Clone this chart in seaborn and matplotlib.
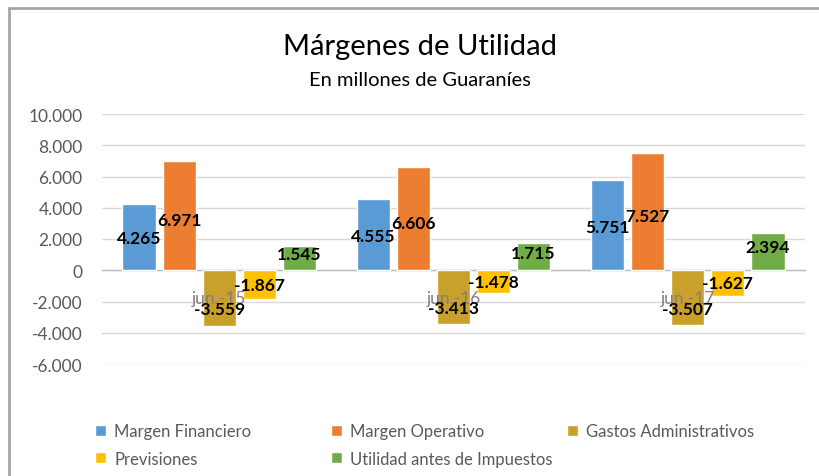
import matplotlib
matplotlib.use("Agg")
import matplotlib.pyplot as plt
import seaborn as sns
import pandas as pd
from matplotlib.lines import Line2D
from matplotlib.ticker import FuncFormatter, FixedLocator

categories = ["jun.-15", "jun.-16", "jun.-17"]
series = ["Margen Financiero", "Margen Operativo", "Gastos Administrativos",
          "Previsiones", "Utilidad antes de Impuestos"]
margen_financiero = [4265, 4555, 5751]
margen_operativo = [6971, 6606, 7527]
gastos_administrativos = [-3559, -3413, -3507]
previsiones = [-1867, -1478, -1627]
utilidad_antes_impuestos = [1545, 1715, 2394]
colors = ["#5B9BD5", "#ED7D31", "#C9A02A", "#FFC000", "#70AD47"]

values = [margen_financiero, margen_operativo, gastos_administrativos,
          previsiones, utilidad_antes_impuestos]
rows = []
for s, vals in zip(series, values):
    for c, v in zip(categories, vals):
        rows.append({"Periodo": c, "Serie": s, "Valor": v})
df = pd.DataFrame(rows)

sns.set_theme(style="white")
plt.rcParams["font.family"] = ["Lato", "DejaVu Sans"]

fig = plt.figure(figsize=(8.2, 4.77), dpi=100)
ax = fig.add_axes([102 / 820, 112 / 477, 703 / 820, 250 / 477])

sns.barplot(data=df, x="Periodo", y="Valor", hue="Serie", order=categories,
            hue_order=series, palette=colors, width=0.855, gap=0.175,
            saturation=1, ax=ax, errorbar=None, legend=True)

handles, labels = ax.get_legend_handles_labels()
ax.get_legend().remove()

ax.set_ylim(-6000, 10000)
ax.set_xlim(-0.5, 2.5)
ax.set_yticks(range(-6000, 10001, 2000))
ax.yaxis.set_major_formatter(FuncFormatter(lambda v, p: f"{int(v):,}".replace(",", ".")))
ax.grid(axis="y", color="#D9D9D9", lw=1)
ax.set_axisbelow(True)
ax.xaxis.set_zorder(3)
for sp in ["left", "right", "top"]:
    ax.spines[sp].set_visible(False)
ax.spines["bottom"].set_position(("data", 0))
ax.spines["bottom"].set_color("#BFBFBF")
ax.spines["bottom"].set_linewidth(1)
ax.spines["bottom"].set_zorder(0.8)
ax.tick_params(axis="y", length=0, labelsize=12.5, labelcolor="#595959", pad=14)

ax.xaxis.set_major_locator(FixedLocator([-0.5, 0.5, 1.5, 2.5]))
ax.xaxis.set_minor_locator(FixedLocator([0, 1, 2]))
ax.set_xticklabels([], minor=False)
ax.set_xticklabels(categories, minor=True)
ax.tick_params(axis="x", which="major", length=6, color="#BFBFBF", direction="out")
ax.tick_params(axis="x", which="minor", length=0, labelsize=12.5, labelcolor="#808080", pad=14)
ax.set_xlabel("")
ax.set_ylabel("")

offsets = [-1, -3, -8, 0, 3]
for cont, off in zip(ax.containers, offsets):
    for bar in cont:
        h = bar.get_height()
        x = bar.get_x() + bar.get_width() / 2
        ax.annotate(f"{int(round(h)):,}".replace(",", "."), (x, h / 2),
                    xytext=(0, off), textcoords="offset points",
                    ha="center", va="center", fontsize=12.5, fontweight="bold",
                    color="black", zorder=5)

fig.text(420 / 820, 1 - 47 / 477, "Márgenes de Utilidad", ha="center", va="center",
         fontsize=21, color="#000000")
fig.text(420 / 820, 1 - 80 / 477, "En millones de Guaraníes", ha="center", va="center",
         fontsize=14.5, color="#000000")

col_x = [95 / 820, 331 / 820, 567 / 820]
cols = [[0, 3], [1, 4], [2]]
for cx, idx in zip(col_x, cols):
    fig.legend([handles[i] for i in idx], [labels[i] for i in idx],
               loc="upper left", bbox_to_anchor=(cx, 1 - 424 / 477),
               frameon=False, fontsize=12, labelcolor="#595959",
               handlelength=0.65, handleheight=0.65, handletextpad=0.5,
               labelspacing=0.7, borderaxespad=0, borderpad=0)

fig.add_artist(Line2D([9 / 820, 1], [1 - 9 / 477, 1 - 9 / 477],
                      transform=fig.transFigure, color="#A6A6A6", lw=2))
fig.add_artist(Line2D([9 / 820, 9 / 820], [0, 1 - 9 / 477],
                      transform=fig.transFigure, color="#A6A6A6", lw=2))

fig.savefig("out.png", dpi=100)
